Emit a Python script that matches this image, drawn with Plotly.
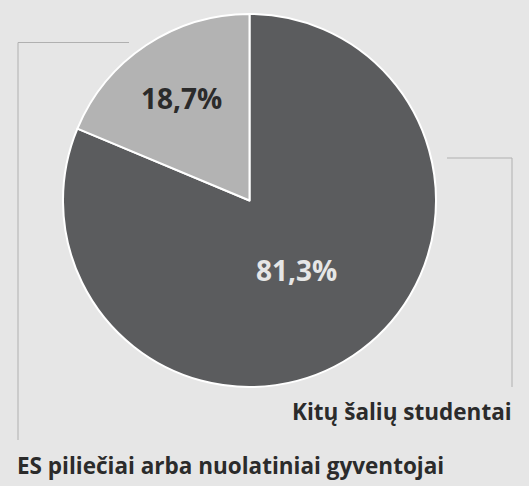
import math
import plotly.graph_objects as go

# Shares of students by residency status (%)
categories = ["Kitų šalių studentai", "ES piliečiai arba nuolatiniai gyventojai"]
shares = [81.3, 18.7]
share_labels = ["81,3%", "18,7%"]
slice_colors = ["#5b5c5e", "#b3b3b3"]
label_colors = ["#e6e6e6", "#2b2b2b"]

W, H = 529, 486
BG = "#e6e6e6"
FONT = "Open Sans, Noto Sans, sans-serif"

# pie geometry in pixels
cx, cy, R = 249.5, 200.5, 186.5


def px(x):
    return x / W


def py(y):
    return 1 - y / H


fig = go.Figure(
    go.Pie(
        labels=categories,
        values=shares,
        sort=False,
        direction="clockwise",
        rotation=0,
        marker=dict(colors=slice_colors, line=dict(color="white", width=2)),
        textinfo="none",
        hoverinfo="label+percent",
        domain=dict(x=[px(cx - R), px(cx + R)], y=[py(cy + R), py(cy - R)]),
        showlegend=False,
    )
)

# percentage labels at each slice's mid-angle
total = sum(shares)
start = 0.0
radial = [0.45, 0.66]
annotations = []
for v, lab, col, rf in zip(shares, share_labels, label_colors, radial):
    span = 360 * v / total
    mid = math.radians(start + span / 2)
    x = cx + rf * R * math.sin(mid)
    y = cy - rf * R * math.cos(mid)
    annotations.append(dict(
        x=px(x), y=py(y), xref="paper", yref="paper",
        text=f"<b>{lab}</b>", showarrow=False,
        font=dict(family=FONT, size=28, color=col),
        xanchor="center", yanchor="middle",
    ))
    start += span

# category captions
annotations.append(dict(
    x=px(514), y=py(411), xref="paper", yref="paper",
    text=f"<b>{categories[0]}</b>", showarrow=False,
    font=dict(family=FONT, size=22.5, color="#2b2b2b"),
    xanchor="right", yanchor="middle",
))
annotations.append(dict(
    x=px(15), y=py(465), xref="paper", yref="paper",
    text=f"<b>{categories[1]}</b>", showarrow=False,
    font=dict(family=FONT, size=22.5, color="#2b2b2b"),
    xanchor="left", yanchor="middle",
))

# leader lines
line_style = dict(color="#b0b0b0", width=1)
segments = [
    (447, 158, 512, 158),
    (512, 158, 512, 387),
    (18, 42.5, 129, 42.5),
    (18, 42.5, 18, 440),
]
shapes = [
    dict(type="line", xref="paper", yref="paper",
         x0=px(a), y0=py(b), x1=px(c), y1=py(d), line=line_style)
    for a, b, c, d in segments
]

fig.update_layout(
    width=W, height=H,
    margin=dict(l=0, r=0, t=0, b=0),
    paper_bgcolor=BG, plot_bgcolor=BG,
    annotations=annotations,
    shapes=shapes,
)

fig.write_html("out.html")
